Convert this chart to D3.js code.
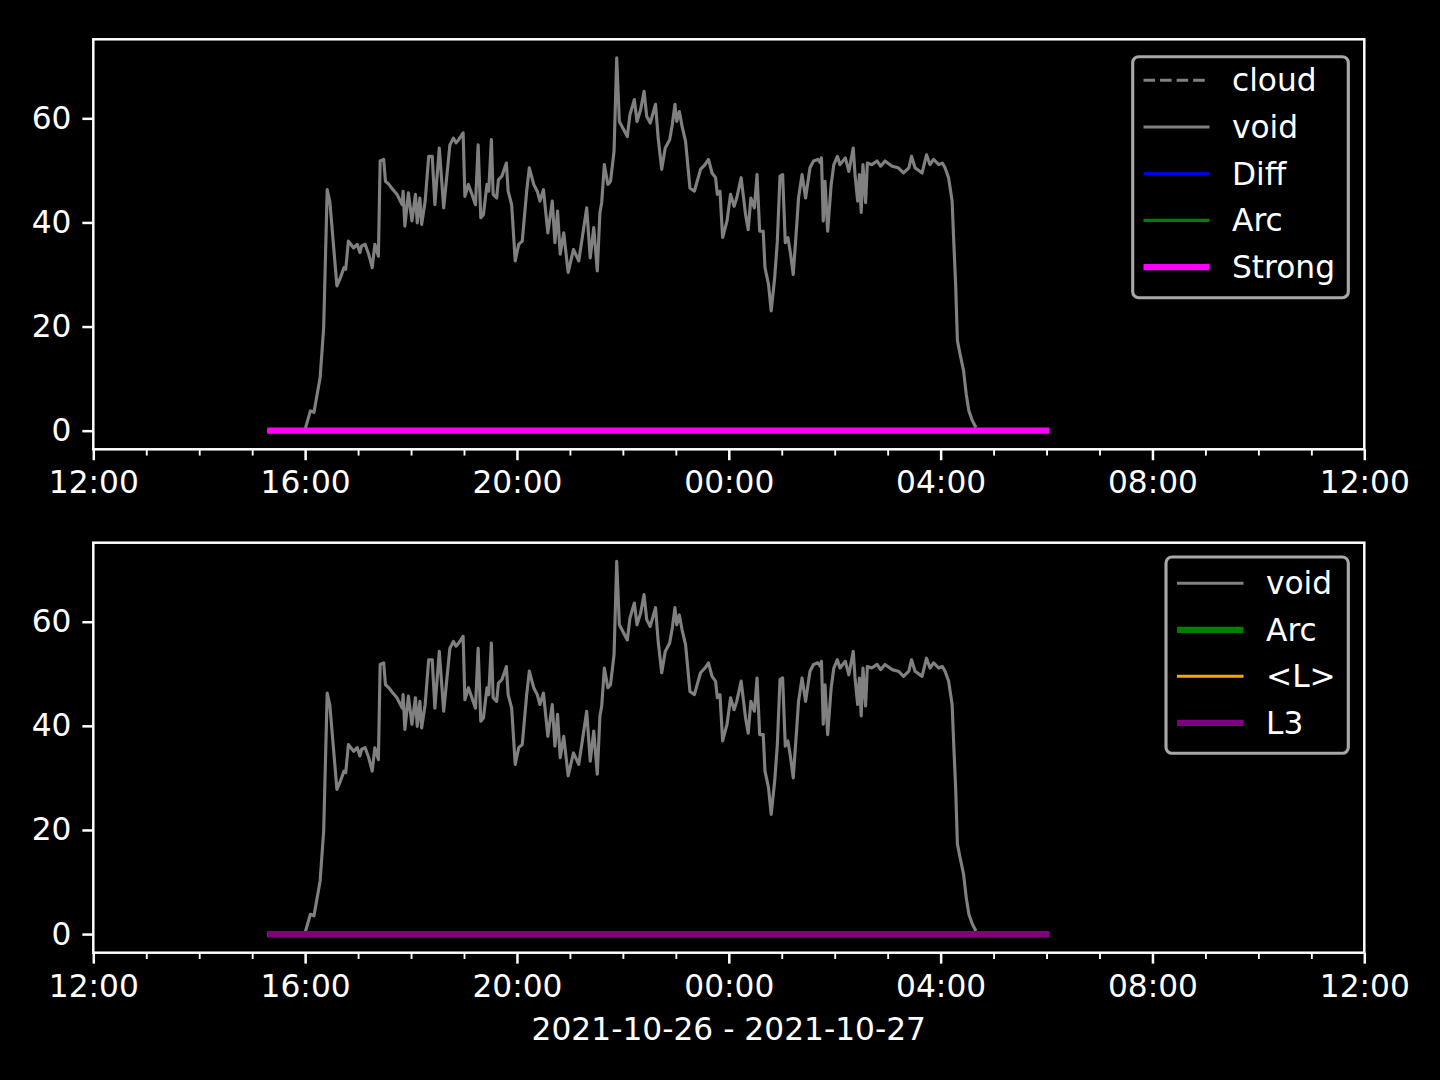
<!DOCTYPE html>
<html>
<head>
<meta charset="utf-8">
<script src="https://cdn.jsdelivr.net/npm/d3@7"></script>
<style>
  html, body { margin: 0; padding: 0; background: #000; }
  svg { display: block; }
  text { font-family: "DejaVu Sans", sans-serif; fill: #fff; }
</style>
</head>
<body>
<svg id="chart" width="1440" height="1080"></svg>
<script>
// ---------------- data ----------------
const dayStart = "2021-10-26";
const dayEnd = "2021-10-27";
const xRange = ["12:00", "12:00"]; // 2021-10-26 12:00 -> 2021-10-27 12:00
const yTicks = [0, 20, 40, 60];

const voidTimes = ["16:00","16:06","16:10","16:17","16:21","16:25","16:28","16:36","16:40","16:44","16:46","16:49","16:55","16:59",
"17:02","17:04","17:08","17:12","17:16","17:19","17:23","17:25","17:29","17:31","17:35","17:38","17:44","17:50","17:51","17:53","17:57",
"18:01","18:05","18:07","18:10","18:12","18:16","18:20","18:24","18:27","18:32","18:37","18:44","18:48","18:51","18:54","18:59",
"19:01","19:05","19:09","19:13","19:16","19:19","19:22","19:26","19:28","19:31","19:33","19:37","19:39","19:43","19:48","19:50","19:54","19:58",
"20:02","20:06","20:11","20:14","20:19","20:23","20:26","20:30","20:35","20:40","20:43","20:46","20:49","20:53","20:58",
"21:04","21:10","21:14","21:19","21:23","21:27","21:31","21:34","21:36","21:39","21:43","21:46","21:50","21:53","21:56",
"22:01","22:05","22:08","22:13","22:16","22:20","22:24","22:27","22:31","22:37","22:40","22:44","22:48","22:53","22:56","22:59",
"23:01","23:04","23:07","23:11","23:16","23:21","23:28","23:33","23:37","23:41","23:45","23:47","23:50","23:53","23:58",
"00:02","00:06","00:09","00:14","00:19","00:22","00:25","00:29","00:32","00:35","00:39","00:41","00:45","00:48","00:52","00:55","00:58",
"01:01","01:04","01:07","01:10","01:13","01:17","01:19","01:23","01:27","01:32","01:36","01:41","01:44","01:45","01:47","01:49","01:52","01:56","01:59",
"02:03","02:06","02:12","02:16","02:21","02:23","02:26","02:28","02:30","02:32","02:35","02:37","02:42","02:48","02:52","02:57",
"03:05","03:12","03:18","03:24","03:27","03:31","03:39","03:44","03:48","03:52","03:58",
"04:02","04:05","04:09","04:13","04:15","04:17","04:19","04:22","04:26","04:29","04:32","04:36","04:40"];

const voidValues = [0.3,3.8,3.5,10.2,19.8,46.3,44,27.8,29.4,31.3,31,36.4,35.1,35.8,
34.2,35.5,35.8,33.9,31.3,35.8,33.5,51.8,52.1,47.9,47.3,46.6,45.4,43.4,46,39.3,45.7,
40.3,45.4,39.9,44.7,39.6,44.1,52.7,52.7,43.4,54.3,42.8,54.9,56.2,55.3,55.9,57.2,
45,47.3,45.4,43.4,54.9,40.9,41.5,47.3,46,55.9,45.4,44.7,48.2,48.9,51.4,46,43.4,32.6,
35.8,36.4,46,50.5,47.3,46,44.1,46.3,38,44.1,36.1,42.2,33.9,38,30.4,
34.8,32.6,37.1,42.8,33.2,39,30.7,41.9,43.8,51.1,47.3,47.9,53.7,71.6,59.4,
57.8,56.5,60.7,63.6,59.4,61.6,65.2,60.4,59.1,62.7,56.2,50.2,54.3,55.9,58.8,62.7,
59.4,61.3,58.5,55.6,46.6,46,50.2,51.1,52.1,49.5,48.6,45.4,46,37.1,40.3,
45.4,43.1,44.7,48.6,41.5,38.6,44.7,42.8,49.2,38.3,38.3,31.3,28.1,23,29.4,36.4,48.9,
49.2,36.1,37.1,33.9,30,39.6,44.7,49.2,44.7,50.5,51.8,52.1,51.4,52.4,40.3,47.9,38.3,47.3,51.1,
52.7,51.1,52.4,49.8,54.3,49.2,44.1,49.2,41.9,51.1,43.8,51.4,51.1,51.8,50.8,51.8,
50.8,50.5,49.5,50.5,52.7,50.5,49.5,53,51.1,52.1,51.1,
51.4,50.5,48.6,44.1,35.8,28.1,17.3,14.7,11.5,7,3.8,1.9,0.6];

// flat (zero) series
const flatTimes = ["15:17", "06:03"];
const diffValues = [0, 0];
const arcValues = [0, 0];
const strongValues = [0, 0];
const lValues = [0, 0];
const l3Values = [0, 0];

const xLabel = "2021-10-26 - 2021-10-27";

// ---------------- helpers ----------------
const parse = d3.utcParse("%Y-%m-%d %H:%M");
function toDate(hm, forceNext) {
  const h = +hm.slice(0, 2);
  const day = (forceNext || h < 12) ? dayEnd : dayStart;
  return parse(day + " " + hm);
}
function series(times, values) {
  return times.map((t, i) => ({ t: toDate(t), v: values[i] }));
}

const voidData = series(voidTimes, voidValues);
const flat = vals => series(flatTimes, vals);

// ---------------- layout ----------------
const pt = 225 / 72; // matplotlib dpi 225
const fs = 10 * pt;
const L = 93.3, R = 1364.3, H = 410;
const tops = [39.3, 542.7];

const svg = d3.select("#chart");
svg.append("rect").attr("width", 1440).attr("height", 1080).attr("fill", "#000");

const x = d3.scaleUtc()
  .domain([toDate(xRange[0]), toDate(xRange[1], true)])
  .range([L, R]);

const yMax = d3.max(voidValues), yMin = 0;
const pad = (yMax - yMin) * 0.05;

function panel(top, lines, legendItems, legendBox, showXLabel) {
  const g = svg.append("g");
  const y = d3.scaleLinear().domain([yMin - pad, yMax + pad]).range([top + H, top]);

  const clipId = "clip" + Math.round(top);
  g.append("clipPath").attr("id", clipId)
    .append("rect").attr("x", L).attr("y", top).attr("width", R - L).attr("height", H);

  const plot = g.append("g").attr("clip-path", `url(#${clipId})`);
  const lineGen = d3.line().x(d => x(d.t)).y(d => y(d.v));
  lines.forEach(s => {
    plot.append("path").datum(s.data)
      .attr("d", lineGen)
      .attr("fill", "none")
      .attr("stroke", s.color)
      .attr("stroke-width", s.w)
      .attr("stroke-linejoin", "round")
      .attr("stroke-linecap", "butt")
      .attr("stroke-dasharray", s.dash || null);
  });

  // frame
  g.append("rect").attr("x", L).attr("y", top).attr("width", R - L).attr("height", H)
    .attr("fill", "none").attr("stroke", "#fff").attr("stroke-width", 0.8 * pt);

  // x axis major
  const xAxis = d3.axisBottom(x)
    .ticks(d3.utcHour.every(4))
    .tickFormat(d3.utcFormat("%H:%M"))
    .tickSize(3.5 * pt).tickSizeOuter(0).tickPadding(3.5 * pt);
  const xg = g.append("g").attr("transform", `translate(0,${top + H})`).call(xAxis);
  xg.select(".domain").remove();
  xg.selectAll("line").attr("stroke", "#fff").attr("stroke-width", 0.8 * pt);
  xg.selectAll("text").attr("font-size", fs).attr("font-family", "DejaVu Sans").attr("fill", "#fff");

  // minor ticks
  const minor = x.ticks(d3.utcHour.every(1)).filter(d => d.getUTCHours() % 4 !== 0);
  const xm = g.append("g").attr("transform", `translate(0,${top + H})`)
    .call(d3.axisBottom(x).tickValues(minor).tickFormat("").tickSize(2 * pt).tickSizeOuter(0));
  xm.select(".domain").remove();
  xm.selectAll("line").attr("stroke", "#fff").attr("stroke-width", 0.6 * pt);

  // y axis
  const yAxis = d3.axisLeft(y).tickValues(yTicks).tickSize(3.5 * pt).tickSizeOuter(0).tickPadding(3.5 * pt);
  const yg = g.append("g").attr("transform", `translate(${L},0)`).call(yAxis);
  yg.select(".domain").remove();
  yg.selectAll("line").attr("stroke", "#fff").attr("stroke-width", 0.8 * pt);
  yg.selectAll("text").attr("font-size", fs).attr("font-family", "DejaVu Sans").attr("fill", "#fff");

  // legend
  const lg = g.append("g");
  lg.append("rect")
    .attr("x", legendBox.x0).attr("y", legendBox.y0)
    .attr("width", legendBox.x1 - legendBox.x0).attr("height", legendBox.y1 - legendBox.y0)
    .attr("rx", 6).attr("ry", 6)
    .attr("fill", "#000").attr("fill-opacity", 0.8)
    .attr("stroke", "#a8a8a8").attr("stroke-width", 1 * pt);
  legendItems.forEach((it, i) => {
    const cy = legendBox.firstY + i * legendBox.step;
    lg.append("line")
      .attr("x1", legendBox.hx0).attr("x2", legendBox.hx1)
      .attr("y1", cy).attr("y2", cy)
      .attr("stroke", it.color).attr("stroke-width", it.w)
      .attr("stroke-dasharray", it.dash || null);
    lg.append("text")
      .attr("x", legendBox.tx).attr("y", cy).attr("dy", "0.35em")
      .attr("font-size", fs)
      .text(it.label);
  });

  if (showXLabel) {
    g.append("text")
      .attr("x", (L + R) / 2).attr("y", 1040)
      .attr("text-anchor", "middle").attr("font-size", fs)
      .text(xLabel);
  }
}

const thin = 1 * pt, thick = 2 * pt;
const dash = `${3.7 * pt},${1.6 * pt}`;

// top panel
panel(tops[0],
  [
    { data: voidData, color: "#808080", w: thin },
    { data: flat(diffValues), color: "#0000ff", w: thin },
    { data: flat(arcValues), color: "#008000", w: thin },
    { data: flat(strongValues), color: "#ff00ff", w: thick }
  ],
  [
    { label: "cloud", color: "#808080", w: thin, dash: dash },
    { label: "void", color: "#808080", w: thin },
    { label: "Diff", color: "#0000ff", w: thin },
    { label: "Arc", color: "#008000", w: thin },
    { label: "Strong", color: "#ff00ff", w: thick }
  ],
  { x0: 1132.7, x1: 1348.3, y0: 56.7, y1: 297.7, firstY: 80.3, step: 46.7, hx0: 1143.5, hx1: 1209.5, tx: 1232 },
  false);

// bottom panel
panel(tops[1],
  [
    { data: voidData, color: "#808080", w: thin },
    { data: flat(arcValues), color: "#008000", w: thick },
    { data: flat(lValues), color: "#ffa500", w: thin },
    { data: flat(l3Values), color: "#800080", w: thick }
  ],
  [
    { label: "void", color: "#808080", w: thin },
    { label: "Arc", color: "#008000", w: thick },
    { label: "<L>", color: "#ffa500", w: thin },
    { label: "L3", color: "#800080", w: thick }
  ],
  { x0: 1166, x1: 1348.3, y0: 557, y1: 753.3, firstY: 583.3, step: 46.5, hx0: 1177, hx1: 1243.5, tx: 1266 },
  true);
</script>
</body>
</html>
